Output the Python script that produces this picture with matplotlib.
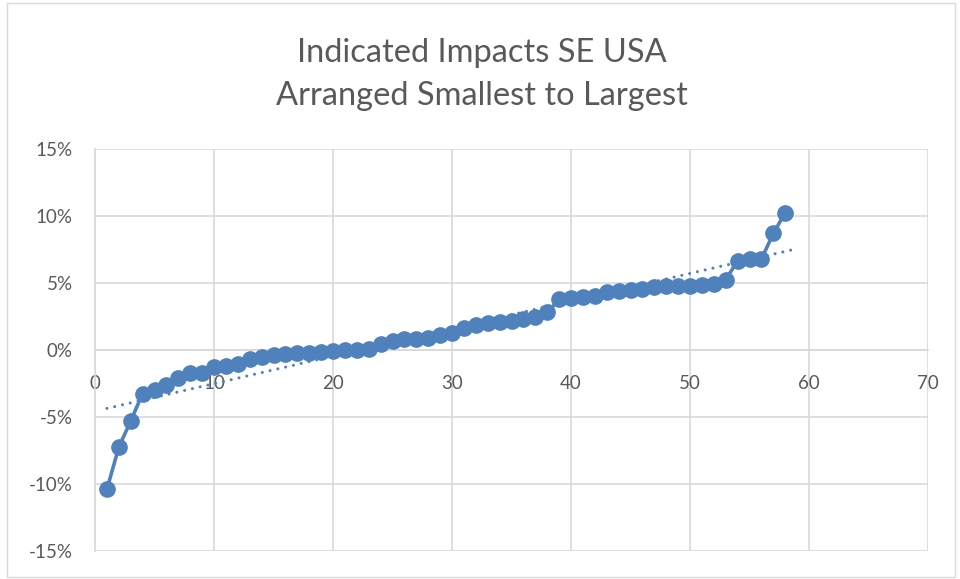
import numpy as np
import matplotlib
matplotlib.use("Agg")
import matplotlib.pyplot as plt
from matplotlib.patches import Rectangle
from matplotlib.ticker import FuncFormatter, MultipleLocator

plt.rcParams['font.family'] = ['Lato', 'DejaVu Sans']

# ---- data ----
rank = list(range(1, 59))
impact_pct = [
    -10.4, -7.25, -5.3, -3.25, -2.95, -2.6, -2.1, -1.7, -1.68, -1.3,
    -1.2, -1.05, -0.65, -0.52, -0.4, -0.33, -0.25, -0.2, -0.15, -0.05,
    0.0, 0.0, 0.05, 0.45, 0.65, 0.8, 0.85, 0.9, 1.1, 1.3,
    1.65, 1.9, 2.05, 2.1, 2.2, 2.35, 2.45, 2.8, 3.78, 3.9,
    3.95, 4.05, 4.35, 4.42, 4.5, 4.55, 4.68, 4.75, 4.78, 4.78,
    4.85, 4.92, 5.25, 6.65, 6.78, 6.78, 8.7, 10.25,
]
title_lines = ["Indicated Impacts SE USA", "Arranged Smallest to Largest"]
x_ticks = [0, 10, 20, 30, 40, 50, 60, 70]
y_ticks = [-15, -10, -5, 0, 5, 10, 15]

x = np.array(rank, dtype=float)
y = np.array(impact_pct, dtype=float)

BLUE = '#4F81BD'
GRID = '#D9D9D9'
TXT = '#595959'

fig = plt.figure(figsize=(9.6, 5.79), dpi=100)
fig.patches.append(Rectangle((7 / 960, 2 / 579), 948 / 960, 574 / 579,
                             transform=fig.transFigure, fill=False,
                             edgecolor='#D9D9D9', linewidth=1.0))

ax = fig.add_axes([95 / 960, 1 - 551 / 579, (928 - 95) / 960, (551 - 149) / 579])

# trend line (linear fit), extended 1 period forward
coef = np.polyfit(x, y, 1)
xt = np.array([x.min(), x.max() + 1])
ax.plot(xt, np.polyval(coef, xt), color=BLUE, linewidth=2.2,
        linestyle=(0, (0.01, 2.6)), dash_capstyle='round', zorder=3)

ax.plot(x, y, color=BLUE, linewidth=2.6, marker='o', markersize=11,
        markerfacecolor=BLUE, markeredgecolor=BLUE, zorder=4)

ax.set_xlim(0, 70)
ax.set_ylim(-15, 15)
ax.set_xticks(x_ticks)
ax.set_yticks(y_ticks)
ax.yaxis.set_major_formatter(FuncFormatter(lambda v, p: f"{v:.0f}%"))

ax.grid(True, color=GRID, linewidth=1.2)
ax.set_axisbelow(True)
for s in ['top', 'right']:
    ax.spines[s].set_visible(False)
ax.spines['bottom'].set_position(('data', 0))
ax.spines['bottom'].set_color(GRID)
ax.spines['left'].set_color(GRID)
ax.spines['bottom'].set_linewidth(1.2)
ax.spines['left'].set_linewidth(1.2)
ax.tick_params(axis='both', length=0, labelsize=13.5, labelcolor=TXT)
ax.tick_params(axis='x', pad=18)
ax.tick_params(axis='y', pad=16)

fig.text(0.502, 1 - 53 / 579, title_lines[0], ha='center', va='center',
         fontsize=23.5, color=TXT)
fig.text(0.502, 1 - 96 / 579, title_lines[1], ha='center', va='center',
         fontsize=23.5, color=TXT)

fig.savefig('out.png', dpi=100)
